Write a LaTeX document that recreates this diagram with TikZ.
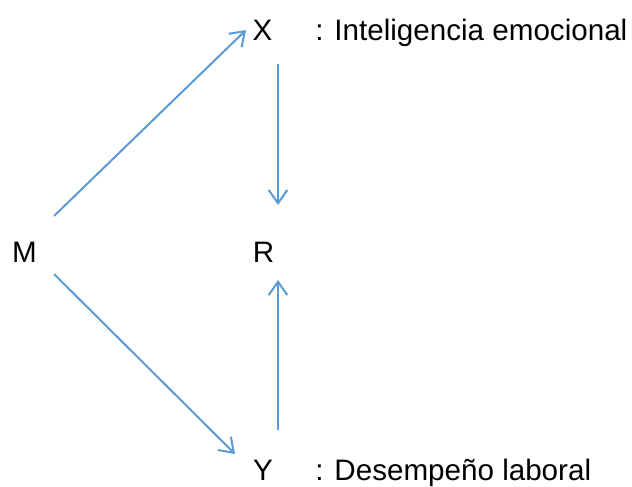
\documentclass[tikz,border=0pt]{standalone}
\usepackage{fontspec}
\setmainfont{Liberation Sans}
\usetikzlibrary{arrows.meta}
\definecolor{lineblue}{RGB}{91,155,213}
\begin{document}
\begin{tikzpicture}[x=0.75pt,y=-0.75pt,
  lbl/.style={inner sep=0pt,anchor=base,font=\fontsize{22.2}{26}\selectfont},
  desc/.style={inner sep=0pt,anchor=base west,font=\fontsize{22.2}{26}\selectfont},
  conn/.style={draw=lineblue,line width=1.5pt,-{Straight Barb[length=10pt,width=14pt]}}]
\useasboundingbox (0,0) rectangle (632,486);
\node[lbl] (X) at (262.5,40) {X};
\node[lbl] (M) at (24.5,262) {M};
\node[lbl] (R) at (263.5,262) {R};
\node[lbl] (Y) at (263,480) {Y};
\node[desc] (dx) at (315,40) {: Inteligencia emocional};
\node[desc] (dy) at (315,480) {: Desempeño laboral};
\draw[conn] ([shift={(29.5,-46)}]M.base) -- ([shift={(-16.5,-10)}]X.base);
\draw[conn] ([shift={(15.5,24)}]X.base) -- ([shift={(14.5,-57)}]R.base);
\draw[conn] ([shift={(15,-50)}]Y.base) -- ([shift={(14.5,18)}]R.base);
\draw[conn] ([shift={(29.5,12)}]M.base) -- ([shift={(-28,-26)}]Y.base);
\end{tikzpicture}
\end{document}
